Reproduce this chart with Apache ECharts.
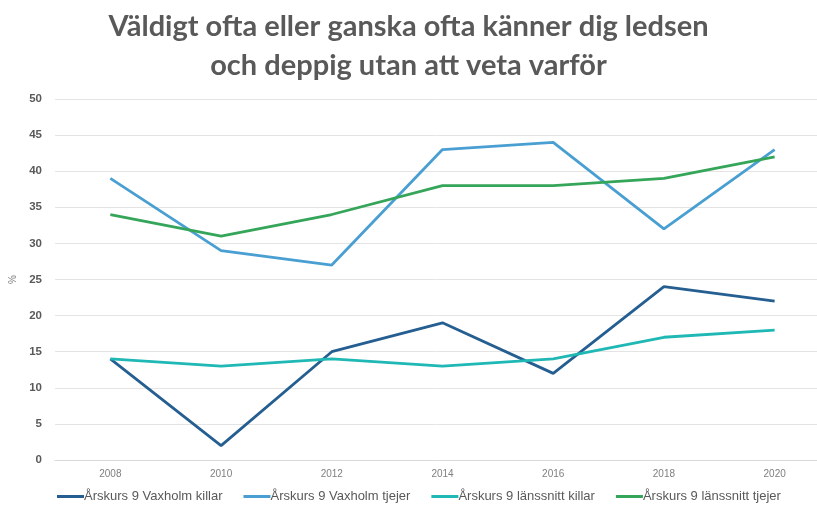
<!DOCTYPE html>
<html>
<head>
<meta charset="utf-8">
<script src="https://cdn.jsdelivr.net/npm/echarts@6/dist/echarts.min.js"></script>
<style>
    html, body { margin: 0; padding: 0; background: #fff; }
    #chart { width: 817px; height: 510px; }
</style>
</head>
<body>
<div id="chart"></div>
<script>
// år på x-axeln
const years = ['2008', '2010', '2012', '2014', '2016', '2018', '2020'];
const seriesNames = ['Årskurs 9 Vaxholm killar', 'Årskurs 9 Vaxholm tjejer', 'Årskurs 9 länssnitt killar', 'Årskurs 9 länssnitt tjejer'];
const vaxholmKillar = [14, 2, 15, 19, 12, 24, 22];
const vaxholmTjejer = [39, 29, 27, 43, 44, 32, 43];
const lanKillar = [14, 13, 14, 13, 14, 17, 18];
const lanTjejer = [34, 31, 34, 38, 38, 39, 42];
const colors = ['#255e91', '#4a9fd2', '#1fb8b5', '#35a55a'];

const chart = echarts.init(document.getElementById('chart'));

function line(name, data, color) {
    return {
        name: name,
        type: 'line',
        data: data,
        symbol: 'none',
        lineStyle: { width: 2.8, color: color },
        itemStyle: { color: color }
    };
}

chart.setOption({
    animation: false,
    title: {
        text: 'Väldigt ofta eller ganska ofta känner dig ledsen\noch deppig utan att veta varför',
        left: 'center',
        top: 2,
        textStyle: { fontFamily: 'Lato', fontSize: 29, fontWeight: 'bold', color: '#595959', lineHeight: 39 }
    },
    legend: {
        bottom: 2,
        left: 52,
        itemWidth: 27,
        itemHeight: 3,
        itemGap: 21,
        icon: 'rect',
        data: seriesNames,
        textStyle: { fontFamily: 'Liberation Sans', fontSize: 13, color: '#595959', padding: [0, 0, 0, -5] }
    },
    grid: { left: 55, width: 775, top: 99, bottom: 50, containLabel: false, outerBoundsMode: 'none' },
    xAxis: {
        type: 'category',
        data: years,
        boundaryGap: true,
        axisLine: { lineStyle: { color: '#d9d9d9' } },
        axisTick: { show: false },
        axisLabel: { color: '#7f7f7f', fontSize: 10, margin: 9, fontFamily: 'Liberation Sans' }
    },
    yAxis: {
        type: 'value',
        min: 0,
        max: 50,
        interval: 5,
        name: '%',
        nameLocation: 'middle',
        nameGap: 35,
        nameTextStyle: { color: '#7f7f7f', fontSize: 10 },
        axisLine: { show: false },
        axisTick: { show: false },
        splitLine: { lineStyle: { color: '#e4e4e4' } },
        axisLabel: { color: '#595959', fontSize: 11.5, fontWeight: 'bold', margin: 13, fontFamily: 'Liberation Sans' }
    },
    series: [
        line(seriesNames[0], vaxholmKillar, colors[0]),
        line(seriesNames[1], vaxholmTjejer, colors[1]),
        line(seriesNames[2], lanKillar, colors[2]),
        line(seriesNames[3], lanTjejer, colors[3])
    ]
});
</script>
</body>
</html>
